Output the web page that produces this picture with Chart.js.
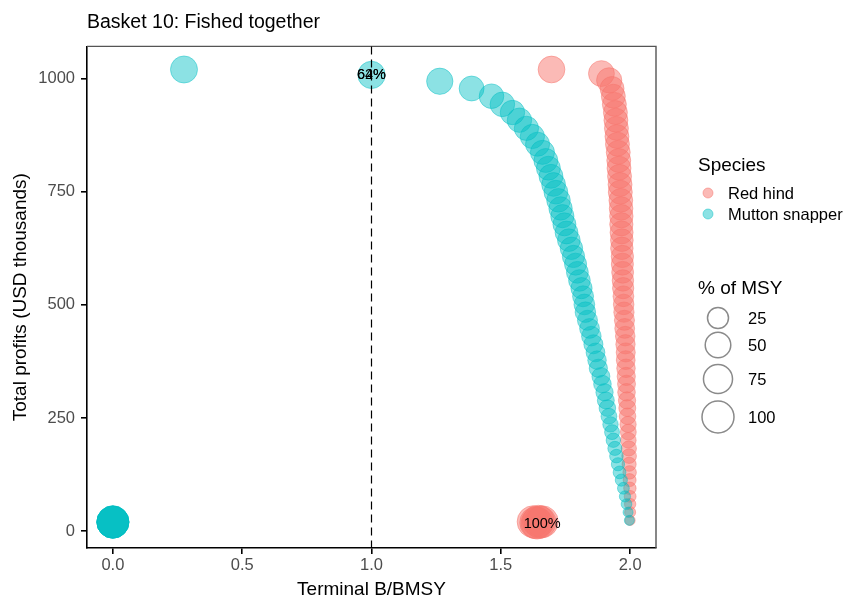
<!DOCTYPE html>
<html>
<head>
<meta charset="utf-8">
<script src="https://cdn.jsdelivr.net/npm/chart.js@4.4.1/dist/chart.umd.min.js"></script>
<style>
  html, body { margin: 0; padding: 0; background: #fff; }
  #wrap { width: 847px; height: 597px; }
</style>
</head>
<body>
<div id="wrap"><canvas id="basket" width="847" height="597"></canvas></div>
<script>
// Red hind: terminal B/BMSY, total profits (USD thousands), % of MSY
const redX = [1.625, 1.635, 1.645, 1.652, 1.660, 1.640,
  1.696, 1.889, 1.919,
  1.930, 1.935, 1.939, 1.943, 1.945, 1.947, 1.949, 1.951, 1.954, 1.956,
  1.957, 1.959, 1.961, 1.962, 1.964, 1.965, 1.966, 1.966, 1.967, 1.968,
  1.968, 1.970, 1.970, 1.971, 1.972, 1.973, 1.974, 1.975, 1.976, 1.978,
  1.979, 1.981, 1.982, 1.983, 1.983, 1.984, 1.985, 1.986, 1.986, 1.988,
  1.989, 1.990, 1.992, 1.993, 1.993, 1.995, 1.996, 1.996, 1.998, 1.998,
  1.999, 2.000, 2.000, 2.000, 2.000];
const redY = [21, 19, 22, 20, 21, 18,
  1020, 1011, 996,
  978, 961, 943, 925, 908, 890, 872, 855, 837, 819,
  802, 784, 766, 749, 731, 713, 696, 678, 660, 643,
  625, 607, 590, 572, 554, 537, 519, 501, 484, 466,
  448, 431, 413, 395, 378, 360, 342, 325, 307, 289,
  272, 254, 236, 219, 201, 183, 166, 148, 130, 113,
  95, 77, 60, 42, 24];
const redMsy = [100, 100, 100, 100, 100, 100,
  58, 52, 48,
  40, 40, 40, 40, 40, 40, 40, 40, 40, 40,
  40, 40, 40, 40, 39, 38, 37, 36, 35, 33,
  32, 31, 30, 29, 27, 26, 24, 23, 22, 21,
  20, 19, 18, 17, 16, 15, 14, 13, 12, 11,
  10, 9, 8, 7, 6.5, 5.5, 4.5, 3.5, 2.5, 1.8,
  1.2, 0.7, 0.4, 0.2, 0];

// Mutton snapper
const mutX = [0, 0, 0, 0, 0, 0,
  0.275, 1.0, 1.264, 1.387,
  1.464, 1.506, 1.545, 1.572, 1.599, 1.622, 1.642, 1.661, 1.674, 1.684,
  1.694, 1.704, 1.713, 1.723, 1.731, 1.738, 1.746, 1.754, 1.763, 1.773,
  1.781, 1.789, 1.796, 1.804, 1.812, 1.818, 1.823, 1.827, 1.835, 1.843,
  1.850, 1.858, 1.866, 1.872, 1.877, 1.887, 1.893, 1.901, 1.906, 1.912,
  1.918, 1.924, 1.930, 1.935, 1.941, 1.947, 1.953, 1.959, 1.966, 1.974,
  1.980, 1.986, 1.992, 1.997];
const mutY = [20, 20, 21, 21, 20, 20,
  1020, 1008, 994, 978,
  961, 943, 925, 908, 890, 872, 855, 837, 819, 802,
  784, 766, 749, 731, 713, 696, 678, 660, 643, 625,
  607, 590, 572, 554, 537, 519, 501, 484, 466, 448,
  431, 413, 395, 378, 360, 342, 325, 307, 289, 272,
  254, 236, 219, 201, 183, 166, 148, 130, 113, 95,
  77, 60, 42, 24];
const mutMsy = [100, 100, 100, 100, 100, 100,
  60, 62, 55, 46,
  44, 44, 43, 43, 42, 42, 41, 41, 40, 40,
  40, 39, 39, 38, 37, 36, 35, 34, 33, 32,
  31, 30, 29, 28, 26, 25, 24, 23, 21, 20,
  19, 17, 16, 15, 14, 13, 12, 11, 10, 9,
  7, 6, 5, 4, 3.5, 2.7, 2.1, 1.6, 1.0, 0.7,
  0.3, 0.1, 0, 0];

const xTicks = [0, 0.5, 1, 1.5, 2];
const yTicks = [0, 250, 500, 750, 1000];
const bmsyLine = 1;

const labelX = [1.0, 1.0, 1.66];
const labelY = [1008, 1008, 16];
const labelText = ['62%', '64%', '100%'];

const speciesNames = ['Red hind', 'Mutton snapper'];
const msyBreaks = [25, 50, 75, 100];

const RED = 'rgba(248,118,109,0.5)';
const TEAL = 'rgba(0,191,196,0.45)';
const FONT = "'Liberation Sans', Arial, Helvetica, sans-serif";

// point radius grows with the square root of % of MSY
const msyRadius = (p) => 5 + 11 * Math.sqrt(p / 100);

const toPoints = (xs, ys) => xs.map((x, i) => ({ x: x, y: ys[i] }));

Chart.defaults.font.family = FONT;

const extras = {
  id: 'extras',
  afterDatasetsDraw(chart) {
    const { ctx, chartArea: a, scales: { x, y } } = chart;
    ctx.save();

    // top and right panel edges
    ctx.strokeStyle = '#555';
    ctx.lineWidth = 1.4;
    ctx.beginPath();
    ctx.moveTo(a.left, a.top);
    ctx.lineTo(a.right, a.top);
    ctx.lineTo(a.right, a.bottom);
    ctx.stroke();

    // B = BMSY reference
    const vx = x.getPixelForValue(bmsyLine);
    ctx.strokeStyle = '#000';
    ctx.lineWidth = 1.2;
    ctx.setLineDash([8, 5]);
    ctx.beginPath();
    ctx.moveTo(vx, a.top);
    ctx.lineTo(vx, a.bottom);
    ctx.stroke();
    ctx.setLineDash([]);

    // % labels
    ctx.fillStyle = '#000';
    ctx.font = '14.5px ' + FONT;
    ctx.textAlign = 'center';
    ctx.textBaseline = 'middle';
    labelText.forEach((t, i) => {
      ctx.fillText(t, x.getPixelForValue(labelX[i]), y.getPixelForValue(labelY[i]));
    });
    ctx.restore();
  },
  afterDraw(chart) {
    const ctx = chart.ctx;
    ctx.save();
    ctx.textAlign = 'left';
    ctx.textBaseline = 'middle';
    ctx.fillStyle = '#000';

    // species legend
    ctx.font = '19px ' + FONT;
    ctx.fillText('Species', 698, 166);
    ctx.font = '16.5px ' + FONT;
    const colours = [RED, TEAL];
    speciesNames.forEach((name, i) => {
      const cy = 193 + i * 21;
      ctx.beginPath();
      ctx.arc(708, cy, 5, 0, Math.PI * 2);
      ctx.fillStyle = colours[i];
      ctx.fill();
      ctx.strokeStyle = colours[i];
      ctx.lineWidth = 1;
      ctx.stroke();
      ctx.fillStyle = '#000';
      ctx.fillText(name, 728, cy + 1);
    });

    // size legend
    ctx.font = '19px ' + FONT;
    ctx.fillText('% of MSY', 698, 289);
    ctx.font = '16.5px ' + FONT;
    const rowY = [318, 345, 379, 417];
    msyBreaks.forEach((b, i) => {
      ctx.beginPath();
      ctx.arc(718, rowY[i], msyRadius(b), 0, Math.PI * 2);
      ctx.strokeStyle = '#8a8a8a';
      ctx.lineWidth = 1.5;
      ctx.stroke();
      ctx.fillStyle = '#000';
      ctx.fillText(String(b), 748, rowY[i] + 1);
    });
    ctx.restore();
  }
};

const axisGrid = {
  display: true,
  drawOnChartArea: false,
  drawTicks: true,
  tickLength: 6,
  tickColor: '#000',
  tickWidth: 1.6,
  lineWidth: 1.6,
  color: '#000'
};

new Chart(document.getElementById('basket'), {
  type: 'scatter',
  data: {
    datasets: [
      {
        label: speciesNames[1],
        data: toPoints(mutX, mutY),
        backgroundColor: TEAL,
        borderColor: TEAL,
        borderWidth: 1,
        pointRadius: (c) => msyRadius(mutMsy[c.dataIndex])
      },
      {
        label: speciesNames[0],
        data: toPoints(redX, redY),
        backgroundColor: RED,
        borderColor: RED,
        borderWidth: 1,
        pointRadius: (c) => msyRadius(redMsy[c.dataIndex])
      }
    ]
  },
  options: {
    responsive: false,
    animation: false,
    devicePixelRatio: 1,
    layout: { padding: { left: 0, right: 191, top: 0, bottom: 0 } },
    plugins: {
      legend: { display: false },
      tooltip: { enabled: false },
      title: {
        display: true,
        text: 'Basket 10: Fished together',
        align: 'start',
        fullSize: false,
        color: '#000',
        font: { size: 19.5, weight: 'normal', lineHeight: 1.2 },
        padding: { top: 11, bottom: 12 }
      }
    },
    scales: {
      x: {
        type: 'linear',
        min: -0.1,
        max: 2.1,
        afterFit: (s) => { s.height = 49; },
        afterBuildTicks: (s) => { s.ticks = xTicks.map(v => ({ value: v })); },
        grid: axisGrid,
        border: { display: true, color: '#000', width: 1.6 },
        ticks: {
          color: '#4d4d4d',
          font: { size: 16.5 },
          padding: 2,
          maxRotation: 0,
          callback: (v) => Number(v).toFixed(1)
        },
        title: {
          display: true,
          text: 'Terminal B/BMSY',
          color: '#000',
          font: { size: 19, lineHeight: 0.8 },
          padding: { top: 0, bottom: 0 }
        }
      },
      y: {
        type: 'linear',
        min: -37,
        max: 1071,
        afterFit: (s) => { s.width = 87; },
        afterBuildTicks: (s) => { s.ticks = yTicks.map(v => ({ value: v })); },
        grid: axisGrid,
        border: { display: true, color: '#000', width: 1.6 },
        ticks: {
          color: '#4d4d4d',
          font: { size: 16.5 },
          padding: 6,
          callback: (v) => String(v)
        },
        title: {
          display: true,
          text: 'Total profits (USD thousands)',
          color: '#000',
          font: { size: 19, lineHeight: 1.2 },
          padding: { top: 9, bottom: 0 }
        }
      }
    }
  },
  plugins: [extras]
});
</script>
</body>
</html>
